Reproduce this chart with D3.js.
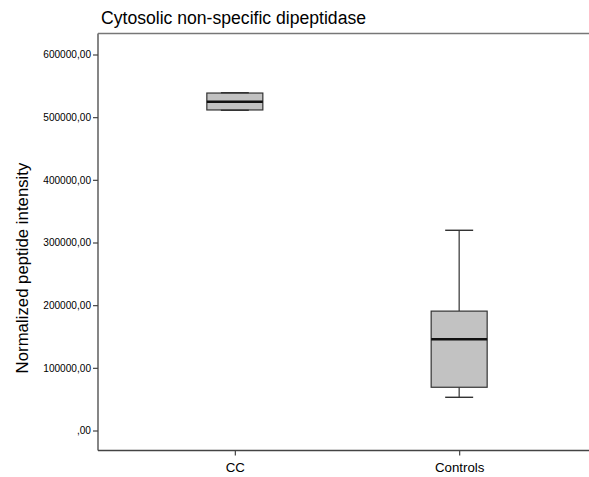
<!DOCTYPE html>
<html>
<head>
<meta charset="utf-8">
<script src="https://cdn.jsdelivr.net/npm/d3@7"></script>
<style>
  body { margin: 0; background: #fff; }
  text { font-family: Arial, "Liberation Sans", sans-serif; fill: #000; }
</style>
</head>
<body>
<svg id="chart" width="589" height="477"></svg>
<script>
// Group labels and five-number summaries (min, Q1, median, Q3, max)
const groups = ["CC", "Controls"];
const minVals = [511000, 53000];
const q1Vals = [511500, 69000];
const medianVals = [524500, 145500];
const q3Vals = [538500, 190500];
const maxVals = [539000, 319500];
const yTicks = [0, 100000, 200000, 300000, 400000, 500000, 600000];

const svg = d3.select("#chart");
const plotLeft = 98, plotRight = 596, plotTop = 33.5, plotBottom = 450.5;

const y = d3.scaleLinear().domain([0, 600000]).range([430.5, 54.5]);
const x = d3.scalePoint().domain(groups).range([plotLeft, plotRight]).padding(0.61);

const fmt = v => v === 0 ? ",00" : (v.toFixed(2).replace(".", ","));

// frame: left axis, top border, bottom axis
svg.append("line").attr("x1", plotLeft).attr("x2", plotLeft).attr("y1", plotTop).attr("y2", plotBottom)
  .attr("stroke", "#444").attr("stroke-width", 1.3);
svg.append("line").attr("x1", plotLeft).attr("x2", 589).attr("y1", plotTop).attr("y2", plotTop)
  .attr("stroke", "#777").attr("stroke-width", 1.3);
svg.append("line").attr("x1", plotLeft).attr("x2", 589).attr("y1", plotBottom).attr("y2", plotBottom)
  .attr("stroke", "#444").attr("stroke-width", 1.3);

// y axis ticks and labels
const yAxis = svg.append("g").attr("transform", `translate(${plotLeft},0)`)
  .call(d3.axisLeft(y).tickValues(yTicks).tickFormat(fmt).tickSize(5).tickPadding(2));
yAxis.select(".domain").remove();
yAxis.selectAll("line").attr("stroke", "#444").attr("stroke-width", 1.2);
yAxis.selectAll("text").style("font-size", "10.1px").attr("fill", "#222");

// x axis ticks and labels
const xAxis = svg.append("g").attr("transform", `translate(0,${plotBottom})`)
  .call(d3.axisBottom(x).tickSize(5).tickPadding(7));
xAxis.select(".domain").remove();
xAxis.selectAll("line").attr("stroke", "#444").attr("stroke-width", 1.2);
xAxis.selectAll("text").style("font-size", "13.3px").attr("fill", "#111");

// box plots
const boxW = 56, capW = 28;
groups.forEach((g, i) => {
  const cx = x(g);
  const b = svg.append("g");
  // whiskers
  b.append("line").attr("x1", cx).attr("x2", cx).attr("y1", y(q3Vals[i])).attr("y2", y(maxVals[i]))
    .attr("stroke", "#333").attr("stroke-width", 1.2);
  b.append("line").attr("x1", cx).attr("x2", cx).attr("y1", y(q1Vals[i])).attr("y2", y(minVals[i]))
    .attr("stroke", "#333").attr("stroke-width", 1.2);
  // box
  b.append("rect").attr("x", cx - boxW / 2).attr("width", boxW)
    .attr("y", y(q3Vals[i])).attr("height", y(q1Vals[i]) - y(q3Vals[i]))
    .attr("fill", "#c2c2c2").attr("stroke", "#333").attr("stroke-width", 1.2);
  // caps
  [maxVals[i], minVals[i]].forEach(v => {
    b.append("line").attr("x1", cx - capW / 2).attr("x2", cx + capW / 2).attr("y1", y(v)).attr("y2", y(v))
      .attr("stroke", "#333").attr("stroke-width", 1.4);
  });
  // median
  b.append("line").attr("x1", cx - boxW / 2).attr("x2", cx + boxW / 2)
    .attr("y1", y(medianVals[i])).attr("y2", y(medianVals[i]))
    .attr("stroke", "#111").attr("stroke-width", 2.4);
});

// title and y label
svg.append("text").attr("x", 101).attr("y", 23.5).style("font-size", "17.6px")
  .text("Cytosolic non-specific dipeptidase");
svg.append("text").attr("transform", "translate(28,268) rotate(-90)")
  .attr("text-anchor", "middle").style("font-size", "16.8px")
  .text("Normalized peptide intensity");
</script>
</body>
</html>
